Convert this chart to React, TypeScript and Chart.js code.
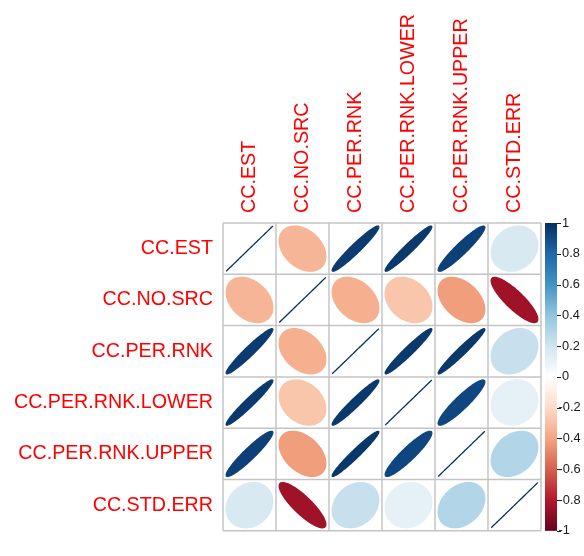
import { useEffect, useRef } from "react";
import { Chart, registerables } from "chart.js";

Chart.register(...registerables);

// Variable names (rows top to bottom, columns left to right)
const variables = [
  "CC.EST",
  "CC.NO.SRC",
  "CC.PER.RNK",
  "CC.PER.RNK.LOWER",
  "CC.PER.RNK.UPPER",
  "CC.STD.ERR",
];

// Correlation matrix, one row per variable
const rowEst = [1, -0.34, 0.96, 0.965, 0.94, 0.17];
const rowNoSrc = [-0.34, 1, -0.36, -0.28, -0.42, -0.85];
const rowPerRnk = [0.96, -0.36, 1, 0.965, 0.97, 0.23];
const rowLower = [0.965, -0.28, 0.965, 1, 0.92, 0.11];
const rowUpper = [0.94, -0.42, 0.97, 0.92, 1, 0.3];
const rowStdErr = [0.17, -0.85, 0.23, 0.11, 0.3, 1];
const corrRows = [rowEst, rowNoSrc, rowPerRnk, rowLower, rowUpper, rowStdErr];

// Colour legend tick values
const legendTicks = [1, 0.8, 0.6, 0.4, 0.2, 0, -0.2, -0.4, -0.6, -0.8, -1];

// Diverging RdBu palette, from -1 to 1
const paletteStops = [
  "#67001F", "#B2182B", "#D6604D", "#F4A582", "#FDDBC7", "#FFFFFF",
  "#D1E5F0", "#92C5DE", "#4393C3", "#2166AC", "#053061",
];

const FONT = "'Liberation Sans', Arial, Helvetica, sans-serif";
const LABEL_SIZE = 19.7;

function hexToRgb(h: string): number[] {
  const n = parseInt(h.slice(1), 16);
  return [(n >> 16) & 255, (n >> 8) & 255, n & 255];
}

function colorFor(v: number): string {
  const t = Math.max(0, Math.min(1, (v + 1) / 2)) * (paletteStops.length - 1);
  const i = Math.min(paletteStops.length - 2, Math.floor(t));
  const f = t - i;
  const a = hexToRgb(paletteStops[i]);
  const b = hexToRgb(paletteStops[i + 1]);
  const c = a.map((x, k) => Math.round(x + (b[k] - x) * f));
  return `rgb(${c[0]},${c[1]},${c[2]})`;
}

const corrPlugin = {
  id: "corrEllipses",
  afterDatasetsDraw(chart: any) {
    const { ctx } = chart;
    const xs = chart.scales.x;
    const ys = chart.scales.y;
    const n = variables.length;
    ctx.save();

    // column labels, rotated, reading bottom to top
    ctx.fillStyle = "#ff0000";
    ctx.font = `${LABEL_SIZE}px ${FONT}`;
    ctx.textAlign = "left";
    ctx.textBaseline = "middle";
    variables.forEach((name, j) => {
      const x = xs.getPixelForValue(j + 1);
      ctx.save();
      ctx.translate(x + 0.5, xs.bottom - 10);
      ctx.rotate(-Math.PI / 2);
      ctx.fillText(name, 0, 0);
      ctx.restore();
    });

    // cell grid
    ctx.strokeStyle = "#c4c4c4";
    ctx.lineWidth = 1.5;
    const top = ys.getPixelForValue(0.5);
    const bottom = ys.getPixelForValue(n + 0.5);
    const left = xs.getPixelForValue(0.5);
    const right = xs.getPixelForValue(n + 0.5);
    for (let k = 0; k <= n; k++) {
      const x = xs.getPixelForValue(k + 0.5);
      const y = ys.getPixelForValue(k + 0.5);
      ctx.beginPath();
      ctx.moveTo(x, top);
      ctx.lineTo(x, bottom);
      ctx.stroke();
      ctx.beginPath();
      ctx.moveTo(left, y);
      ctx.lineTo(right, y);
      ctx.stroke();
    }

    // ellipses
    const data = chart.data.datasets[0].data as { x: number; y: number; v: number }[];
    for (const p of data) {
      const cx = xs.getPixelForValue(p.x);
      const cy = ys.getPixelForValue(p.y);
      const w = Math.abs(xs.getPixelForValue(p.x + 0.5) - xs.getPixelForValue(p.x - 0.5)) * 0.88;
      const h = Math.abs(ys.getPixelForValue(p.y + 0.5) - ys.getPixelForValue(p.y - 0.5)) * 0.88;
      const d = Math.acos(Math.max(-1, Math.min(1, p.v)));
      const col = colorFor(p.v);
      ctx.beginPath();
      const steps = 120;
      for (let s = 0; s <= steps; s++) {
        const k = (s / steps) * Math.PI * 2;
        const ex = cx + (w * Math.cos(k + d / 2)) / 2;
        const ey = cy - (h * Math.cos(k - d / 2)) / 2;
        if (s === 0) ctx.moveTo(ex, ey);
        else ctx.lineTo(ex, ey);
      }
      ctx.closePath();
      ctx.fillStyle = col;
      ctx.fill();
      ctx.strokeStyle = col;
      ctx.lineWidth = 1.3;
      ctx.stroke();
    }

    // colour bar
    const cb = chart.scales.cbar;
    const yTop = cb.getPixelForValue(1);
    const yBot = cb.getPixelForValue(-1);
    const bx = cb.left + 4;
    const bw = 12;
    const grad = ctx.createLinearGradient(0, yBot, 0, yTop);
    paletteStops.forEach((c, i) => grad.addColorStop(i / (paletteStops.length - 1), c));
    ctx.fillStyle = grad;
    ctx.fillRect(bx, yTop, bw, yBot - yTop);
    ctx.strokeStyle = "#222";
    ctx.lineWidth = 1;
    for (const t of legendTicks) {
      const y = Math.round(cb.getPixelForValue(t)) + 0.5;
      ctx.beginPath();
      ctx.moveTo(bx + bw, y);
      ctx.lineTo(bx + bw + 4, y);
      ctx.stroke();
    }
    ctx.restore();
  },
};

export default function App() {
  const ref = useRef<HTMLCanvasElement | null>(null);

  useEffect(() => {
    if (!ref.current) return;
    const points: { x: number; y: number; v: number }[] = [];
    corrRows.forEach((row, i) =>
      row.forEach((v, j) => points.push({ x: j + 1, y: i + 1, v }))
    );
    const positions = variables.map((_, i) => ({ value: i + 1 }));

    const chart = new Chart(ref.current, {
      type: "scatter",
      data: {
        datasets: [
          {
            data: points as any,
            pointRadius: 0,
            pointHoverRadius: 0,
            showLine: false,
          },
        ],
      },
      options: {
        responsive: false,
        animation: false,
        events: [],
        layout: { padding: { left: 0, top: 0, right: 0, bottom: 9.5 } },
        plugins: { legend: { display: false }, tooltip: { enabled: false } },
        scales: {
          x: {
            type: "linear",
            position: "top",
            min: 0.5,
            max: 6.5,
            grid: { display: false, drawTicks: false, tickLength: 0 },
            border: { display: false },
            afterBuildTicks: (s: any) => {
              s.ticks = positions.map((p) => ({ ...p }));
            },
            afterFit: (s: any) => {
              s.height = 223;
            },
            ticks: { display: false },
          },
          y: {
            type: "linear",
            position: "left",
            min: 0.5,
            max: 6.5,
            reverse: true,
            grid: { display: false, drawTicks: false, tickLength: 0 },
            border: { display: false },
            afterBuildTicks: (s: any) => {
              s.ticks = positions.map((p) => ({ ...p }));
            },
            afterFit: (s: any) => {
              s.width = 223;
            },
            ticks: {
              autoSkip: false,
              padding: 10,
              color: "#ff0000",
              font: { family: FONT, size: LABEL_SIZE },
              callback: (v: any) => variables[Math.round(Number(v)) - 1] ?? "",
            },
          },
          cbar: {
            type: "linear",
            position: "right",
            display: true,
            min: -1,
            max: 1,
            grid: { display: false, drawTicks: false, tickLength: 0, drawOnChartArea: false },
            border: { display: false },
            afterBuildTicks: (s: any) => {
              s.ticks = legendTicks.map((t) => ({ value: t }));
            },
            afterFit: (s: any) => {
              s.width = 43;
            },
            ticks: {
              autoSkip: false,
              padding: 17.5,
              color: "#1a1a1a",
              font: { family: FONT, size: 12.8 },
              // positive labels get a leading space so the digits line up with the negatives
              callback: (v: any) => {
                const r = Math.round(Number(v) * 10) / 10;
                return r < 0 ? String(r) : " " + String(r);
              },
            },
          },
        } as any,
      },
      plugins: [corrPlugin],
    });
    return () => chart.destroy();
  }, []);

  return (
    <div style={{ position: "fixed", left: 0, top: 0, width: 584, height: 556, background: "#fff" }}>
      <canvas ref={ref} width={584} height={556} style={{ width: 584, height: 556, display: "block" }} />
    </div>
  );
}
